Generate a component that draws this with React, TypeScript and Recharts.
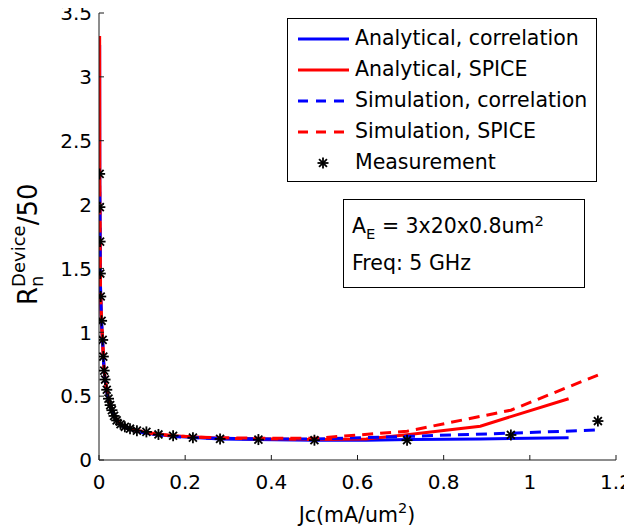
import React from "react";
import { ComposedChart, Line, Scatter, XAxis, YAxis, Legend } from "recharts";

const FONT = "'DejaVu Sans', 'Liberation Sans', Arial, sans-serif";

const xTicks = [0, 0.2, 0.4, 0.6, 0.8, 1, 1.2];
const yTicks = [0, 0.5, 1, 1.5, 2, 2.5, 3, 3.5];

const measJc = [0.0015, 0.002, 0.0025, 0.003, 0.004, 0.006, 0.0085, 0.01, 0.012, 0.014, 0.018, 0.022, 0.026, 0.03, 0.035, 0.041, 0.05, 0.06, 0.072, 0.088, 0.11, 0.138, 0.172, 0.218, 0.281, 0.37, 0.5, 0.715, 0.956, 1.158];
const measR = [2.24, 1.98, 1.71, 1.46, 1.28, 1.09, 0.94, 0.81, 0.7, 0.63, 0.55, 0.48, 0.43, 0.39, 0.345, 0.31, 0.28, 0.26, 0.245, 0.23, 0.22, 0.2, 0.19, 0.175, 0.165, 0.16, 0.155, 0.155, 0.196, 0.305];

const simJc = measJc;
const simCorr = [2.1, 1.95, 1.7, 1.45, 1.27, 1.08, 0.93, 0.8, 0.69, 0.62, 0.54, 0.47, 0.42, 0.38, 0.34, 0.305, 0.275, 0.255, 0.24, 0.225, 0.21, 0.195, 0.185, 0.175, 0.17, 0.165, 0.165, 0.185, 0.21, 0.235];
const simSpice = [2.15, 1.97, 1.71, 1.46, 1.28, 1.09, 0.94, 0.81, 0.7, 0.63, 0.55, 0.48, 0.43, 0.39, 0.345, 0.31, 0.28, 0.26, 0.245, 0.23, 0.215, 0.2, 0.19, 0.18, 0.175, 0.17, 0.17, 0.225, 0.39, 0.665];

const anaJc = [0.0015, 0.002, 0.003, 0.004, 0.006, 0.0085, 0.012, 0.018, 0.026, 0.035, 0.05, 0.072, 0.11, 0.172, 0.281, 0.5, 0.62, 0.72, 0.885, 1.09];
const anaCorr = [3.25, 2.02, 1.45, 1.24, 1.05, 0.91, 0.69, 0.53, 0.42, 0.34, 0.275, 0.24, 0.21, 0.185, 0.165, 0.155, 0.155, 0.16, 0.165, 0.175];
const anaSpice = [3.32, 2.05, 1.47, 1.25, 1.06, 0.92, 0.7, 0.54, 0.43, 0.345, 0.28, 0.245, 0.215, 0.19, 0.17, 0.16, 0.165, 0.2, 0.265, 0.48];

const zip = (xs: number[], ys: number[]) => xs.map((x, i) => ({ x, y: ys[i] }));

const measData = zip(measJc, measR);
const simCorrData = zip(simJc, simCorr);
const simSpiceData = zip(simJc, simSpice);
const anaCorrData = zip(anaJc, anaCorr);
const anaSpiceData = zip(anaJc, anaSpice);

const BLUE = "#0000ff";
const RED = "#ff0000";
const AXIS = "#1a1a1a";
const DASH = "11 7";

const Star = (props: any) => {
  const { cx, cy } = props;
  if (cx == null || cy == null) return null;
  const r = 5.5;
  const d = r * 0.72;
  return (
    <g stroke="#000" strokeWidth={1.8}>
      <line x1={cx - r} y1={cy} x2={cx + r} y2={cy} />
      <line x1={cx} y1={cy - r} x2={cx} y2={cy + r} />
      <line x1={cx - d} y1={cy - d} x2={cx + d} y2={cy + d} />
      <line x1={cx - d} y1={cy + d} x2={cx + d} y2={cy - d} />
    </g>
  );
};

const XTick = (props: any) => {
  const { x, y, payload } = props;
  return (
    <g>
      <line x1={x} x2={x} y1={y} y2={y - 5} stroke={AXIS} strokeWidth={1} />
      <text x={x} y={y + 29} textAnchor="middle" fontSize={20} fontFamily={FONT} fill="#000">
        {String(payload.value)}
      </text>
    </g>
  );
};

const YTick = (props: any) => {
  const { x, y, payload } = props;
  return (
    <g>
      <line x1={x + 7} x2={x + 12} y1={y} y2={y} stroke={AXIS} strokeWidth={1} />
      <text x={x} y={y + 7.3} textAnchor="end" fontSize={20} fontFamily={FONT} fill="#000">
        {String(payload.value)}
      </text>
    </g>
  );
};

const legendItems = [
  { label: "Analytical, correlation", color: BLUE, dash: false, star: false },
  { label: "Analytical, SPICE", color: RED, dash: false, star: false },
  { label: "Simulation, correlation", color: BLUE, dash: true, star: false },
  { label: "Simulation, SPICE", color: RED, dash: true, star: false },
  { label: "Measurement", color: "#000", dash: false, star: true },
];

const LegendBox = () => (
  <div
    style={{
      width: 308,
      height: 158,
      border: "1.2px solid #000",
      background: "#fff",
      boxSizing: "content-box",
      paddingTop: 4,
      fontFamily: FONT,
      fontSize: 20.5,
      color: "#000",
    }}
  >
    {legendItems.map((it) => (
      <div key={it.label} style={{ display: "flex", alignItems: "center", height: 31 }}>
        <svg width={67} height={31} style={{ flex: "none" }}>
          {it.star ? (
            <Star cx={35} cy={16} />
          ) : (
            <line x1={10} x2={61} y1={16} y2={16} stroke={it.color} strokeWidth={3} strokeDasharray={it.dash ? "10 8" : undefined} />
          )}
        </svg>
        <span style={{ whiteSpace: "nowrap", lineHeight: "31px" }}>{it.label}</span>
      </div>
    ))}
  </div>
);

const YLabel = () => (
  <text transform="translate(37,305) rotate(-90)" fontFamily={FONT} fontSize={26} fill="#000">
    <tspan>R</tspan>
    <tspan fontSize={18} dy={6}>n</tspan>
    <tspan fontSize={18} dx={-11.4} dy={-18}>Device</tspan>
    <tspan dy={12}>/50</tspan>
  </text>
);

const XLabel = () => (
  <text x={357} y={521.5} textAnchor="middle" fontFamily={FONT} fontSize={20.5} fill="#000">
    <tspan>Jc(mA/um</tspan>
    <tspan fontSize={14.5} dy={-9}>2</tspan>
    <tspan dy={9}>)</tspan>
  </text>
);

export default function App() {
  return (
    <div style={{ position: "relative", width: 632, height: 531, margin: "-8px 0 0 -8px" }}>
      <ComposedChart width={632} height={531} margin={{ top: 13, right: 16, left: 0, bottom: 0 }}>
        <XAxis
          type="number"
          dataKey="x"
          domain={[0, 1.2]}
          ticks={xTicks}
          height={71}
          tickSize={0}
          tickMargin={0}
          tickLine={false}
          axisLine={{ stroke: AXIS, strokeWidth: 1 }}
          tick={<XTick />}
          interval={0}
          allowDataOverflow
          label={<XLabel />}
        />
        <YAxis
          type="number"
          dataKey="y"
          domain={[0, 3.5]}
          ticks={yTicks}
          width={99}
          tickSize={0}
          tickMargin={7}
          tickLine={false}
          axisLine={{ stroke: AXIS, strokeWidth: 1 }}
          tick={<YTick />}
          interval={0}
          allowDataOverflow
          label={<YLabel />}
        />
        <Legend
          layout="vertical"
          align="center"
          verticalAlign="middle"
          content={() => <LegendBox />}
          wrapperStyle={{ position: "absolute", left: 287, top: 18, width: 310, margin: 0 }}
        />
        <Line data={anaCorrData} dataKey="y" stroke={BLUE} strokeWidth={3} dot={false} isAnimationActive={false} type="linear" name="Analytical, correlation" />
        <Line data={anaSpiceData} dataKey="y" stroke={RED} strokeWidth={3} dot={false} isAnimationActive={false} type="linear" name="Analytical, SPICE" />
        <Line data={simCorrData} dataKey="y" stroke={BLUE} strokeWidth={3} strokeDasharray={DASH} dot={false} isAnimationActive={false} type="linear" name="Simulation, correlation" />
        <Line data={simSpiceData} dataKey="y" stroke={RED} strokeWidth={3} strokeDasharray={DASH} dot={false} isAnimationActive={false} type="linear" name="Simulation, SPICE" />
        <Scatter data={measData} dataKey="y" shape={<Star />} isAnimationActive={false} name="Measurement" />
      </ComposedChart>
      <div
        style={{
          position: "absolute",
          left: 343,
          top: 199,
          width: 240,
          height: 87,
          border: "1.2px solid #000",
          background: "#fff",
          fontFamily: FONT,
          fontSize: 20.5,
          color: "#000",
        }}
      >
        <div style={{ position: "absolute", left: 8, top: 14, whiteSpace: "nowrap", lineHeight: "24px" }}>
          A<span style={{ position: "relative", top: "0.38em", fontSize: "0.72em" }}>E</span> = 3x20x0.8um
          <span style={{ position: "relative", top: "-0.45em", fontSize: "0.72em" }}>2</span>
        </div>
        <div style={{ position: "absolute", left: 8, top: 51, whiteSpace: "nowrap", lineHeight: "24px" }}>Freq: 5 GHz</div>
      </div>
    </div>
  );
}
